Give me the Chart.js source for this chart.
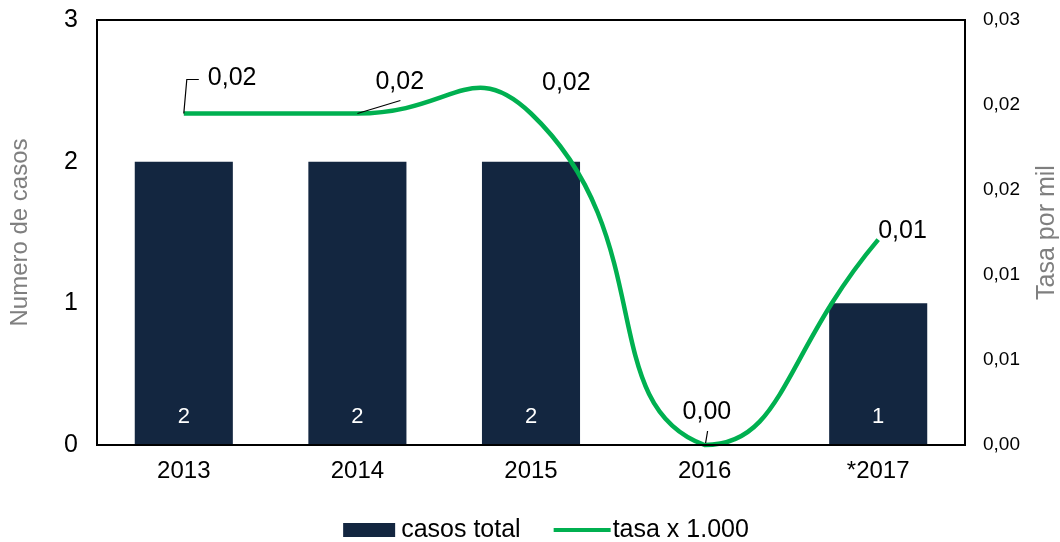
<!DOCTYPE html>
<html>
<head>
<meta charset="utf-8">
<script src="https://cdn.jsdelivr.net/npm/chart.js@4"></script>
<style>
  html, body { margin: 0; padding: 0; background: #fff; }
  #wrap { width: 1060px; height: 542px; }
</style>
</head>
<body>
<div id="wrap"><canvas id="chart" width="1060" height="542"></canvas></div>
<script>
const years = ['2013', '2014', '2015', '2016', '*2017'];
const casos = [2, 2, 2, 0, 1];
const tasa = [0.0234, 0.0234, 0.0234, 0, 0.0145];
const casosTicks = [0, 1, 2, 3];
const tasaMax = 0.03;
const tasaStep = 0.006;

const navy = '#132640';
const green = '#00b050';
const fontName = '"Liberation Sans", Arial, sans-serif';

// label offsets for the line labels (dx, dy from point) and leader lines
const lineLabelPos = [
  { dx: 24, dy: -35, leader: [[0, 0], [3, -34], [15, -34]] },
  { dx: 18, dy: -31, leader: [[0, 0], [43, -13]] },
  { dx: 11, dy: -30, leader: null },
  { dx: -22, dy: -33, leader: [[1, -2], [3, -14]] },
  { dx: 0, dy: -8, leader: null }
];

const fmt = v => v.toFixed(2).replace('.', ',');

const labelsPlugin = {
  id: 'labelsPlugin',
  afterDatasetsDraw(chart) {
    const ctx = chart.ctx;
    const area = chart.chartArea;
    ctx.save();
    // plot box
    ctx.strokeStyle = '#000';
    ctx.lineWidth = 2;
    ctx.strokeRect(area.left, area.top, area.right - area.left, area.bottom - area.top);

    // right axis title, reads bottom to top
    ctx.save();
    ctx.translate(1047, (area.top + area.bottom) / 2);
    ctx.rotate(-Math.PI / 2);
    ctx.font = '25px ' + fontName;
    ctx.fillStyle = '#7f7f7f';
    ctx.textAlign = 'center';
    ctx.textBaseline = 'middle';
    ctx.fillText('Tasa por mil', 0, 0);
    ctx.restore();

    // bar labels
    const barMeta = chart.getDatasetMeta(0);
    ctx.font = '22px ' + fontName;
    ctx.fillStyle = '#fff';
    ctx.textAlign = 'center';
    ctx.textBaseline = 'middle';
    barMeta.data.forEach((bar, i) => {
      if (casos[i] > 0) ctx.fillText(String(casos[i]), bar.x, area.bottom - 28);
    });

    // line labels
    const lineMeta = chart.getDatasetMeta(1);
    ctx.font = '25px ' + fontName;
    ctx.fillStyle = '#000';
    ctx.textAlign = 'left';
    ctx.strokeStyle = '#000';
    ctx.lineWidth = 1.2;
    lineMeta.data.forEach((pt, i) => {
      const p = lineLabelPos[i];
      if (p.leader) {
        ctx.beginPath();
        p.leader.forEach((q, j) => {
          if (j === 0) ctx.moveTo(pt.x + q[0], pt.y + q[1]);
          else ctx.lineTo(pt.x + q[0], pt.y + q[1]);
        });
        ctx.stroke();
      }
      ctx.fillText(fmt(tasa[i]), pt.x + p.dx, pt.y + p.dy);
    });

    // legend
    ctx.font = '25px ' + fontName;
    const t1 = chart.data.datasets[0].label;
    const t2 = chart.data.datasets[1].label;
    const w1 = ctx.measureText(t1).width;
    const w2 = ctx.measureText(t2).width;
    const total = 52 + 6 + w1 + 33 + 57 + 2 + w2;
    let x = (area.left + area.right) / 2 + 15 - total / 2;
    const y = 530;
    ctx.fillStyle = navy;
    ctx.fillRect(x, y - 7, 52, 14);
    x += 58;
    ctx.fillStyle = '#000';
    ctx.fillText(t1, x, y);
    x += w1 + 33;
    ctx.strokeStyle = green;
    ctx.lineWidth = 4;
    ctx.beginPath();
    ctx.moveTo(x, y);
    ctx.lineTo(x + 57, y);
    ctx.stroke();
    x += 59;
    ctx.fillStyle = '#000';
    ctx.fillText(t2, x, y);
    ctx.restore();
  }
};

function fitY(width) {
  return s => {
    s.width = width;
    s.paddingTop = 0;
    s.paddingBottom = 0;
  };
}

new Chart(document.getElementById('chart'), {
  data: {
    labels: years,
    datasets: [
      {
        type: 'bar',
        label: 'casos total',
        data: casos,
        backgroundColor: navy,
        yAxisID: 'y',
        categoryPercentage: 1,
        barPercentage: 0.565,
        order: 2
      },
      {
        type: 'line',
        label: 'tasa x 1.000',
        data: tasa,
        borderColor: green,
        borderWidth: 4.5,
        pointRadius: 0,
        tension: 0.55,
        fill: false,
        yAxisID: 'y1',
        clip: false,
        order: 1
      }
    ]
  },
  options: {
    responsive: false,
    animation: false,
    layout: { padding: { top: 20, left: 0, right: 0, bottom: 0 } },
    plugins: {
      legend: { display: false },
      tooltip: { enabled: false }
    },
    scales: {
      x: {
        grid: { display: false, drawTicks: false },
        border: { display: false },
        ticks: { color: '#000', font: { family: fontName, size: 24 }, padding: 12 },
        afterFit(s) { s.height = 97; }
      },
      y: {
        position: 'left',
        min: 0,
        max: 3,
        afterBuildTicks(s) { s.ticks = casosTicks.map(v => ({ value: v })); },
        grid: { display: false, drawTicks: false },
        border: { display: false },
        ticks: { color: '#000', font: { family: fontName, size: 25 }, padding: 19 },
        title: {
          display: true,
          text: 'Numero de casos',
          color: '#7f7f7f',
          font: { family: fontName, size: 24, lineHeight: 1 },
          padding: 8
        },
        afterFit: fitY(97)
      },
      y1: {
        position: 'right',
        min: 0,
        max: tasaMax,
        ticks: {
          stepSize: tasaStep,
          color: '#000',
          font: { family: fontName, size: 19 },
          padding: 18,
          callback: v => fmt(v)
        },
        grid: { display: false, drawTicks: false },
        border: { display: false },
        afterFit: fitY(95)
      }
    }
  },
  plugins: [labelsPlugin]
});
</script>
</body>
</html>
